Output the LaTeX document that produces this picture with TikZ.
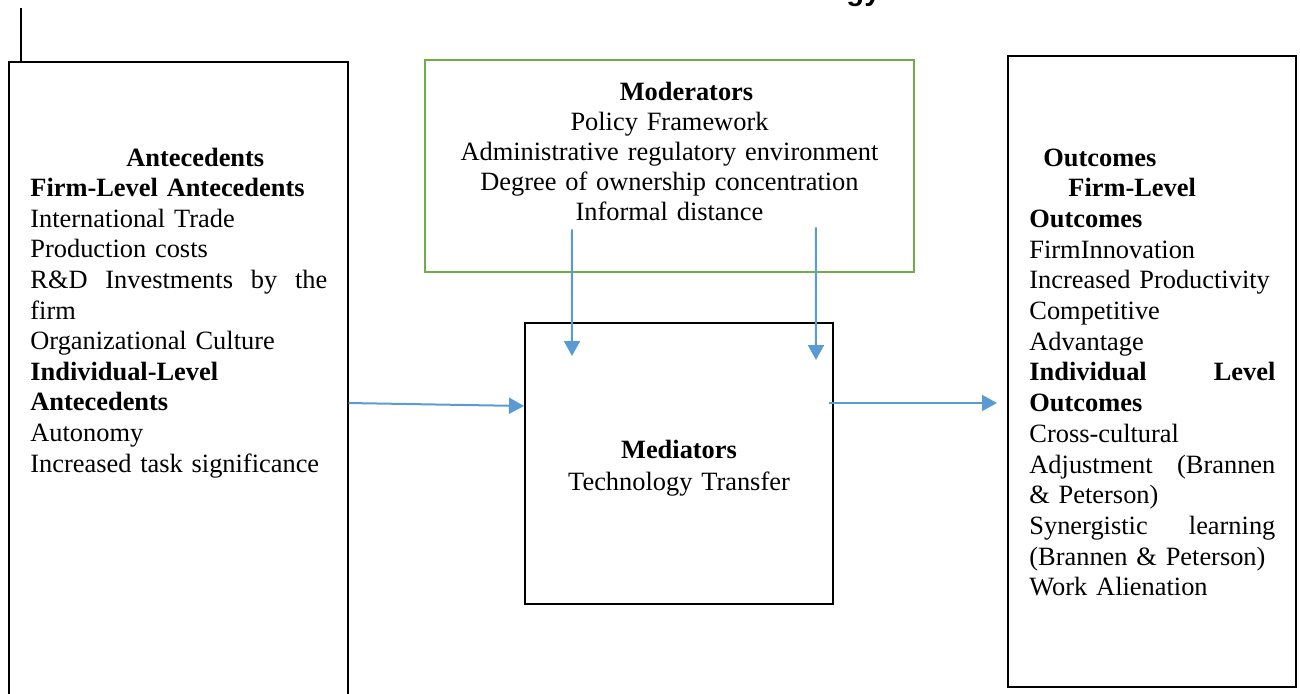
\documentclass[tikz,border=0pt]{standalone}
\usepackage{fontspec}
\setmainfont{Liberation Serif}
\newfontfamily\titlefont{Liberation Sans}
\usetikzlibrary{arrows.meta,calc}
\definecolor{modgreen}{HTML}{70AD47}
\definecolor{arrblue}{HTML}{5B9BD5}
\newcommand{\jline}[2]{\leavevmode\hbox to #1{#2}}
\begin{document}
\begin{tikzpicture}[x=0.5pt,y=-0.5pt,
  box/.style={draw=black, line width=1pt, inner sep=0pt},
  modbox/.style={draw=modgreen, line width=1.25pt, inner sep=0pt},
  txt/.style={inner sep=0pt, font=\fontsize{13.2pt}{15.3pt}\selectfont},
  arr/.style={draw=arrblue, line width=1pt, -{Triangle[width=8pt,length=7.5pt]}}]
\useasboundingbox (0,0) rectangle (1300,693);
% boxes
\node[box, minimum width=169.5pt, minimum height=341pt] (ante) at (178,403) {};
\node[modbox, minimum width=244.5pt, minimum height=106pt] (mod) at (669.5,166) {};
\node[box, minimum width=154pt, minimum height=140.5pt] (med) at (679,463.5) {};
\node[box, minimum width=144pt, minimum height=315.5pt] (outc) at (1152,371.5) {};
% top-left stub line and cut-off title
\coordinate (ltop) at (20.7,8);
\draw[line width=1pt] (ltop) -- (ltop |- ante.north);
\node[inner sep=0pt, anchor=base west, font=\titlefont\bfseries\fontsize{14.6pt}{16pt}\selectfont] (title) at (846,0) {gy};
% texts
\node[txt, anchor=base west, text width=148.5pt, align=left] (antetxt) at (30,166) {%
\hspace*{48pt}\textbf{Antecedents}\\
\textbf{Firm-Level Antecedents}\\
International Trade\\
Production costs\\
\jline{148.5pt}{R\&D\hfill Investments\hfill by\hfill the}\\
firm\\
Organizational Culture\\
\textbf{Individual-Level}\\
\textbf{Antecedents}\\
Autonomy\\
Increased task significance};
\node[txt, anchor=base, text width=240pt, align=center, font=\fontsize{13.2pt}{15pt}\selectfont] (modtxt) at (669.5,100) {%
\hspace*{17pt}\textbf{Moderators}\\
Policy Framework\\
Administrative regulatory environment\\
Degree of ownership concentration\\
Informal distance};
\node[txt, anchor=base, text width=150pt, align=center, font=\fontsize{13.2pt}{16pt}\selectfont] (medtxt) at (679,458) {%
\textbf{Mediators}\\
Technology Transfer};
\node[txt, anchor=base west, text width=123pt, align=left, font=\fontsize{13.2pt}{15.35pt}\selectfont] (outctxt) at (1029,166) {%
\hspace*{7pt}\textbf{Outcomes}\\
\hspace*{19.5pt}\textbf{Firm-Level}\\
\textbf{Outcomes}\\
FirmInnovation\\
Increased Productivity\\
Competitive\\
Advantage\\
\jline{123pt}{\textbf{Individual}\hfill\textbf{Level}}\\
\textbf{Outcomes}\\
Cross-cultural\\
\jline{123pt}{Adjustment\hfill(Brannen}\\
\& Peterson)\\
\jline{123pt}{Synergistic\hfill learning}\\
(Brannen \& Peterson)\\
Work Alienation};
% connectors
\draw[arr] (ante.east) -- ($(med.north west)+(0,84)$);
\draw[arr] ($(mod.south west)+(148,-44)$) -- ($(med.north west)+(48,34)$);
\draw[arr] ($(mod.south west)+(392,-46)$) -- ($(med.north west)+(292,38)$);
\draw[arr] ($(med.north east)+(-5,81)$) -- ($(outc.north west)+(-10,348)$);
\end{tikzpicture}
\end{document}
